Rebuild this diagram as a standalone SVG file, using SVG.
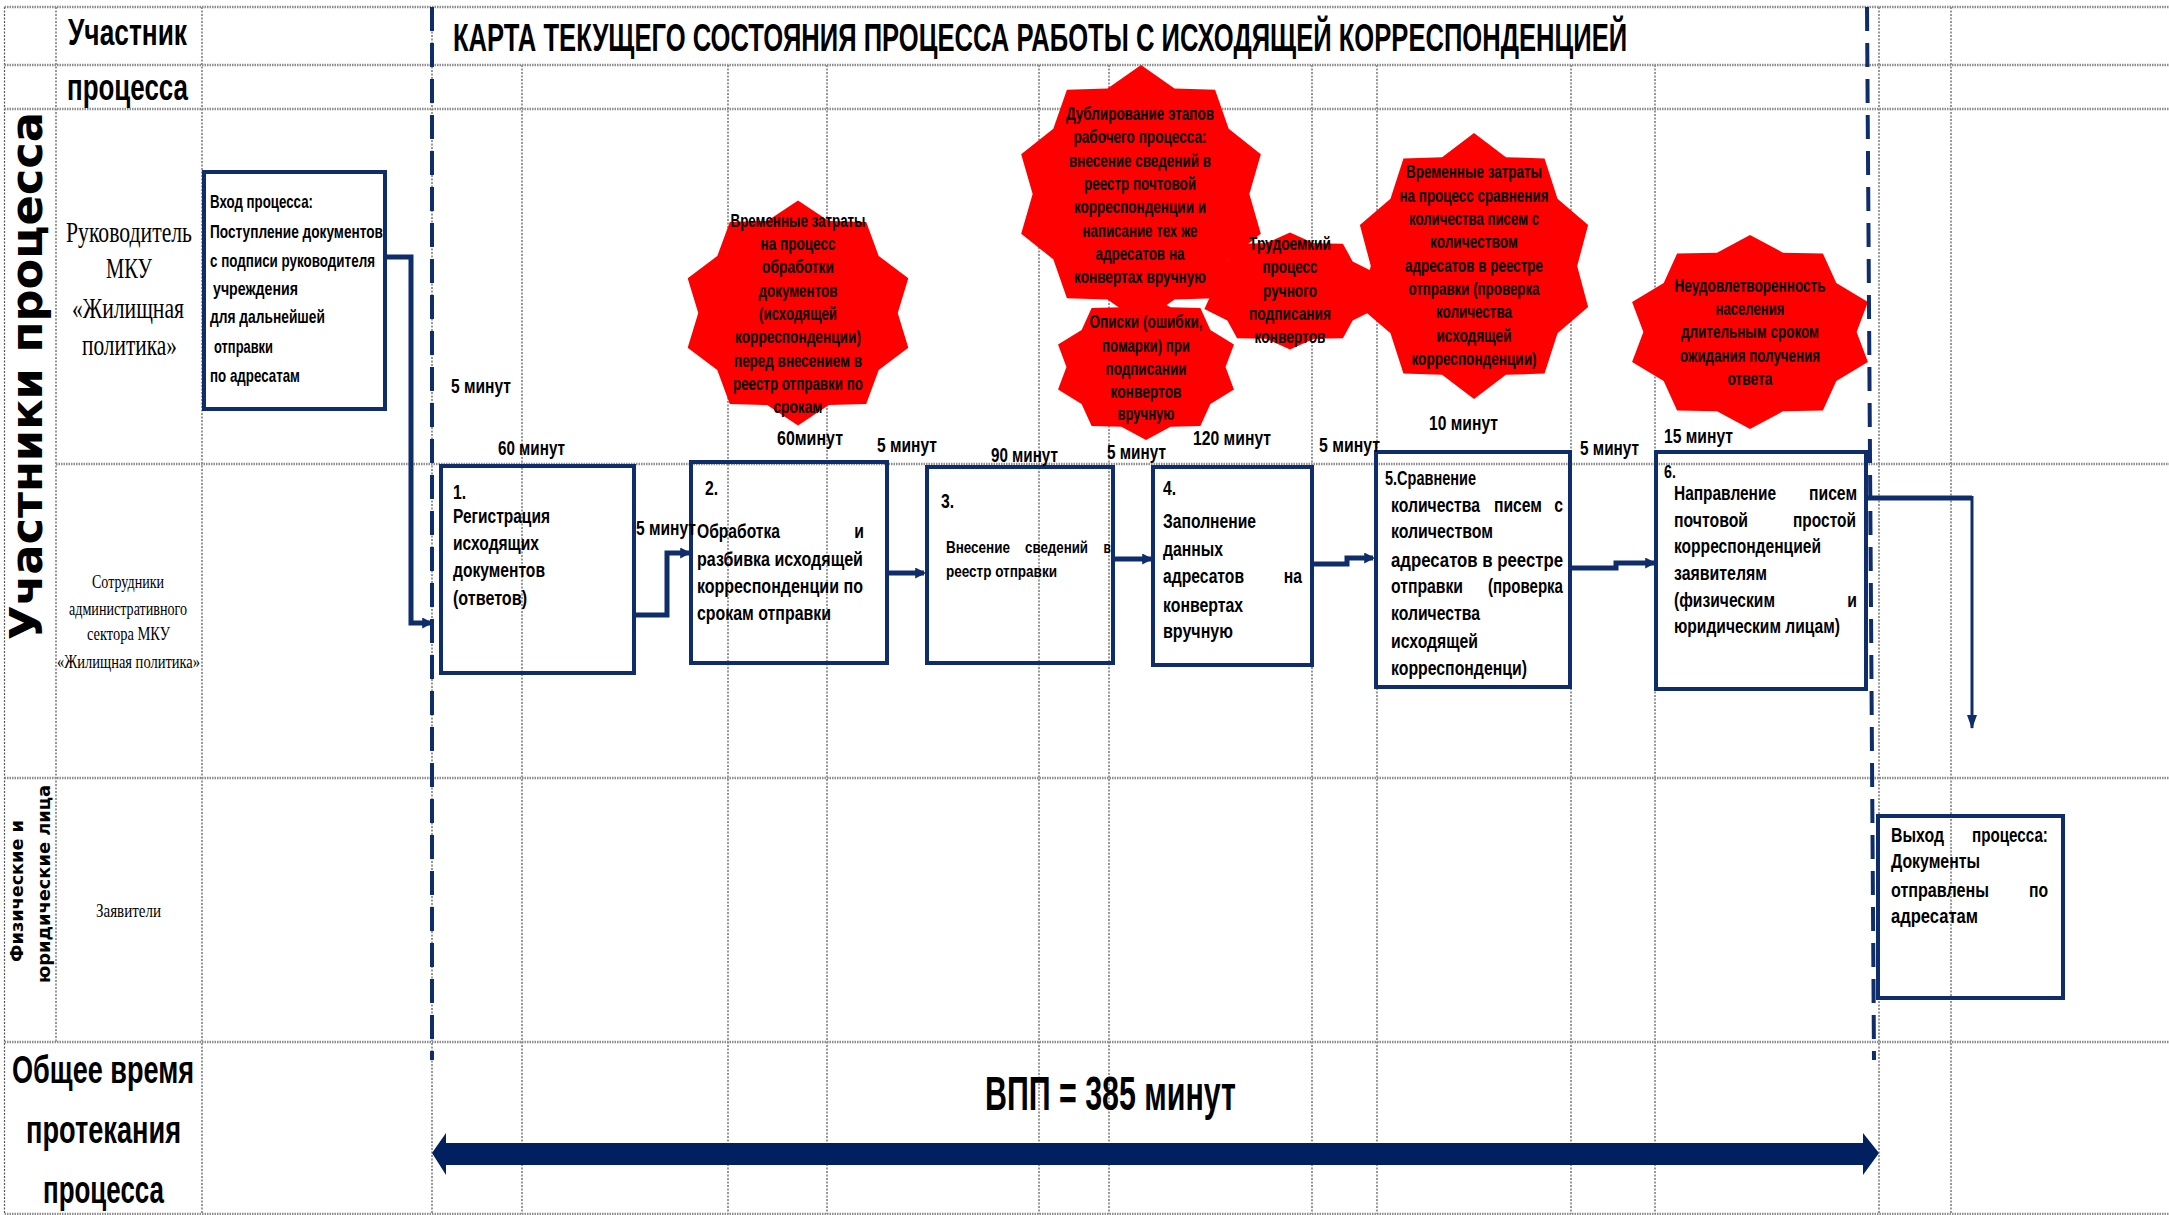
<svg xmlns="http://www.w3.org/2000/svg" xmlns:xlink="http://www.w3.org/1999/xlink" width="2169" height="1215" viewBox="0 0 2169 1215">
<style>
.gv{stroke:#555;stroke-width:1.2;stroke-dasharray:2 1.5;fill:none}
.gh{stroke:#8c8c8c;stroke-width:2.5;stroke-dasharray:1.5 1;fill:none}
.bound{stroke:#0F2D6B;stroke-width:4;stroke-dasharray:24 12;fill:none}
.box{fill:none;stroke:#0F2D6B;stroke-width:4}
.conn{stroke:#0F2D6B;stroke-width:5;fill:none}
.thin{stroke:#0F2D6B;stroke-width:3;fill:none}
.star{fill:#FF0000}
.b{font-family:"Liberation Sans",Arial,sans-serif;font-weight:bold;fill:#000}
.w{font-family:"DejaVu Sans",Verdana,sans-serif;font-weight:bold;fill:#000}
.s{font-family:"Liberation Serif","Times New Roman",serif;fill:#000}
.m{text-anchor:middle}
.e{text-anchor:end}
.f16{font-size:16px}.f18{font-size:18px}.f20{font-size:20px}.f21{font-size:21px}
</style>
<defs>
<polygon id="star10" points="0,-100 26.6,-81.8 58.8,-80.9 69.6,-50.6 95.1,-30.9 86,0 95.1,30.9 69.6,50.6 58.8,80.9 26.6,81.8 0,100 -26.6,81.8 -58.8,80.9 -69.6,50.6 -95.1,30.9 -86,0 -95.1,-30.9 -69.6,-50.6 -58.8,-80.9 -26.6,-81.8"/>
<marker id="ah" viewBox="0 0 10 10" refX="8" refY="5" markerWidth="11" markerHeight="11" markerUnits="userSpaceOnUse" orient="auto"><path d="M0,0 L10,5 L0,10 z" fill="#0F2D6B"/></marker>
<marker id="ahd" viewBox="0 0 14 10" refX="13" refY="5" markerWidth="14" markerHeight="10" markerUnits="userSpaceOnUse" orient="auto"><path d="M0,0 L14,5 L0,10 z" fill="#0F2D6B"/></marker>
</defs>
<rect width="2169" height="1215" fill="#fff"/>

<g id="grid">
<path class="gv" d="M4.5,7V1214M56,7V1042M202,7V1214M432,7V1214M522,65V1214M728,65V1214M827,65V1214M1039,65V1214M1109,65V1214M1312,65V1214M1377,65V1214M1571,65V1214M1655,65V1214M1879,7V1214M1951,7V1214"/>
<path class="gh" d="M4.5,7H2169M4.5,65H2169M4.5,109H2169M56,464H2169M4.5,778H2169M4.5,1042H2169M4.5,1214H2169"/>
</g>

<g id="headers">
<text class="b" transform="translate(453 51) scale(0.66 1)" x="0" y="0" font-size="38" textLength="1779" lengthAdjust="spacingAndGlyphs">КАРТА ТЕКУЩЕГО СОСТОЯНИЯ ПРОЦЕССА РАБОТЫ С ИСХОДЯЩЕЙ КОРРЕСПОНДЕНЦИЕЙ</text>
<text class="b" x="68" y="45" font-size="37" textLength="119" lengthAdjust="spacingAndGlyphs">Участник</text>
<text class="b" x="67" y="100" font-size="37" textLength="121" lengthAdjust="spacingAndGlyphs">процесса</text>
<text class="w m" transform="translate(42 376) rotate(-90)" x="0" y="0" font-size="45" textLength="528" lengthAdjust="spacingAndGlyphs">Участники процесса</text>
<text class="w m" transform="translate(23 891) rotate(-90)" x="0" y="0" font-size="17" textLength="142" lengthAdjust="spacingAndGlyphs">Физические и</text>
<text class="w m" transform="translate(50 884) rotate(-90)" x="0" y="0" font-size="17" textLength="198" lengthAdjust="spacingAndGlyphs">юридические лица</text>
</g>

<g id="lane-1" class="s" transform="scale(0.72 1)">
<text x="91.7" y="242" font-size="30" textLength="175" lengthAdjust="spacingAndGlyphs">Руководитель</text>
<text x="147.2" y="278" font-size="30" textLength="63.9" lengthAdjust="spacingAndGlyphs">МКУ</text>
<text x="100" y="318" font-size="30" textLength="155.6" lengthAdjust="spacingAndGlyphs">«Жилищная</text>
<text x="113.9" y="355" font-size="30" textLength="131.9" lengthAdjust="spacingAndGlyphs">политика»</text>
</g>
<g id="lane-2" class="s" transform="scale(0.72 1)">
<text x="127.8" y="588" font-size="18" textLength="100" lengthAdjust="spacingAndGlyphs">Сотрудники</text>
<text x="95.8" y="615" font-size="18" textLength="163.9" lengthAdjust="spacingAndGlyphs">административного</text>
<text x="120.8" y="640" font-size="18" textLength="115.3" lengthAdjust="spacingAndGlyphs">сектора МКУ</text>
<text x="79.2" y="668" font-size="18" textLength="198.6" lengthAdjust="spacingAndGlyphs">«Жилищная политика»</text>
</g>
<g id="lane-3" class="s" transform="scale(0.72 1)">
<text x="133.3" y="917" font-size="18" textLength="90.3" lengthAdjust="spacingAndGlyphs">Заявители</text>
</g>
<g id="lane-4" class="b">
<text x="12" y="1083" font-size="38" textLength="182" lengthAdjust="spacingAndGlyphs">Общее время</text>
<text x="26" y="1143" font-size="38" textLength="155" lengthAdjust="spacingAndGlyphs">протекания</text>
<text x="43" y="1203" font-size="38" textLength="121" lengthAdjust="spacingAndGlyphs">процесса</text>
</g>

<g id="problem-1">
<use xlink:href="#star10" class="star" transform="translate(798 313) scale(1.16 1.125)"/>
<g class="b m f18">
<text x="798" y="227" textLength="135" lengthAdjust="spacingAndGlyphs">Временные затраты</text>
<text x="798" y="250" textLength="75" lengthAdjust="spacingAndGlyphs">на процесс</text>
<text x="798" y="273" textLength="72" lengthAdjust="spacingAndGlyphs">обработки</text>
<text x="798" y="297" textLength="79" lengthAdjust="spacingAndGlyphs">документов</text>
<text x="798" y="320" textLength="78" lengthAdjust="spacingAndGlyphs">(исходящей</text>
<text x="798" y="343" textLength="126" lengthAdjust="spacingAndGlyphs">корреспонденции)</text>
<text x="798" y="367" textLength="128" lengthAdjust="spacingAndGlyphs">перед внесением в</text>
<text x="798" y="390" textLength="130" lengthAdjust="spacingAndGlyphs">реестр отправки по</text>
<text x="798" y="413" textLength="49" lengthAdjust="spacingAndGlyphs">срокам</text>
</g>
</g>

<g id="problem-2">
<use xlink:href="#star10" class="star" transform="translate(1141 194) scale(1.26 1.29)"/>
<g class="b m f18">
<text x="1140" y="120" textLength="148" lengthAdjust="spacingAndGlyphs">Дублирование этапов</text>
<text x="1140" y="143" textLength="133" lengthAdjust="spacingAndGlyphs">рабочего процесса:</text>
<text x="1140" y="167" textLength="142" lengthAdjust="spacingAndGlyphs">внесение сведений в</text>
<text x="1140" y="190" textLength="112" lengthAdjust="spacingAndGlyphs">реестр почтовой</text>
<text x="1140" y="213" textLength="132" lengthAdjust="spacingAndGlyphs">корреспонденции и</text>
<text x="1140" y="237" textLength="115" lengthAdjust="spacingAndGlyphs">написание тех же</text>
<text x="1140" y="260" textLength="89" lengthAdjust="spacingAndGlyphs">адресатов на</text>
<text x="1140" y="283" textLength="132" lengthAdjust="spacingAndGlyphs">конвертах вручную</text>
</g>
</g>

<g id="problem-3">
<use xlink:href="#star10" class="star" transform="translate(1146 367) scale(0.925 0.73)"/>
<g class="b m f18">
<text x="1146" y="328" textLength="113" lengthAdjust="spacingAndGlyphs">Описки (ошибки,</text>
<text x="1146" y="352" textLength="88" lengthAdjust="spacingAndGlyphs">помарки) при</text>
<text x="1146" y="375" textLength="81" lengthAdjust="spacingAndGlyphs">подписании</text>
<text x="1146" y="398" textLength="71" lengthAdjust="spacingAndGlyphs">конвертов</text>
<text x="1146" y="420" textLength="57" lengthAdjust="spacingAndGlyphs">вручную</text>
</g>
</g>

<g id="problem-4">
<use xlink:href="#star10" class="star" transform="translate(1290 291) scale(0.9 0.585)"/>
<g class="b m f18">
<text x="1290" y="250" textLength="82" lengthAdjust="spacingAndGlyphs">Трудоемкий</text>
<text x="1290" y="273" textLength="55" lengthAdjust="spacingAndGlyphs">процесс</text>
<text x="1290" y="297" textLength="54" lengthAdjust="spacingAndGlyphs">ручного</text>
<text x="1290" y="320" textLength="82" lengthAdjust="spacingAndGlyphs">подписания</text>
<text x="1290" y="343" textLength="71" lengthAdjust="spacingAndGlyphs">конвертов</text>
</g>
</g>

<g id="problem-5">
<use xlink:href="#star10" class="star" transform="translate(1474 266) scale(1.2 1.33)"/>
<g class="b m f18">
<text x="1474" y="178" textLength="136" lengthAdjust="spacingAndGlyphs">Временные затраты</text>
<text x="1474" y="202" textLength="149" lengthAdjust="spacingAndGlyphs">на процесс сравнения</text>
<text x="1474" y="225" textLength="130" lengthAdjust="spacingAndGlyphs">количества писем с</text>
<text x="1474" y="248" textLength="88" lengthAdjust="spacingAndGlyphs">количеством</text>
<text x="1474" y="272" textLength="138" lengthAdjust="spacingAndGlyphs">адресатов в реестре</text>
<text x="1474" y="295" textLength="131" lengthAdjust="spacingAndGlyphs">отправки (проверка</text>
<text x="1474" y="318" textLength="76" lengthAdjust="spacingAndGlyphs">количества</text>
<text x="1474" y="342" textLength="75" lengthAdjust="spacingAndGlyphs">исходящей</text>
<text x="1474" y="365" textLength="125" lengthAdjust="spacingAndGlyphs">корреспонденции)</text>
</g>
</g>

<g id="problem-6">
<use xlink:href="#star10" class="star" transform="translate(1750 332) scale(1.24 0.97)"/>
<g class="b m f18">
<text x="1750" y="292" textLength="151" lengthAdjust="spacingAndGlyphs">Неудовлетворенность</text>
<text x="1750" y="315" textLength="69" lengthAdjust="spacingAndGlyphs">населения</text>
<text x="1750" y="338" textLength="138" lengthAdjust="spacingAndGlyphs">длительным сроком</text>
<text x="1750" y="362" textLength="140" lengthAdjust="spacingAndGlyphs">ожидания получения</text>
<text x="1750" y="385" textLength="45" lengthAdjust="spacingAndGlyphs">ответа</text>
</g>
</g>

<g id="entry">
<rect class="box" x="204" y="172" width="181" height="237"/>
<g class="b f18" transform="scale(0.75 1)">
<text x="280" y="208" textLength="137.3" lengthAdjust="spacingAndGlyphs">Вход процесса:</text>
<text x="280" y="238" textLength="230.7" lengthAdjust="spacingAndGlyphs">Поступление документов</text>
<text x="280" y="267" textLength="220" lengthAdjust="spacingAndGlyphs">с подписи руководителя</text>
<text x="284" y="295" textLength="113.3" lengthAdjust="spacingAndGlyphs">учреждения</text>
<text x="280" y="323" textLength="153.3" lengthAdjust="spacingAndGlyphs">для дальнейшей</text>
<text x="285.3" y="353" textLength="78.7" lengthAdjust="spacingAndGlyphs">отправки</text>
<text x="280" y="382" textLength="120" lengthAdjust="spacingAndGlyphs">по адресатам</text>
</g>
</g>

<g id="step-1">
<rect class="box" x="441" y="466" width="193" height="207"/>
<g class="b f21" transform="scale(0.75 1)">
<text x="604" y="499">1.</text>
<text x="604" y="523" textLength="129.3" lengthAdjust="spacingAndGlyphs">Регистрация</text>
<text x="604" y="550" textLength="114.7" lengthAdjust="spacingAndGlyphs">исходящих</text>
<text x="604" y="577" textLength="122.7" lengthAdjust="spacingAndGlyphs">документов</text>
<text x="604" y="605" textLength="98.7" lengthAdjust="spacingAndGlyphs">(ответов)</text>
</g>
</g>

<g id="step-2">
<rect class="box" x="691" y="462" width="196" height="201"/>
<g class="b f21" transform="scale(0.75 1)">
<text x="940" y="495">2.</text>
<text x="929.3" y="538" textLength="110.7" lengthAdjust="spacingAndGlyphs">Обработка</text>
<text class="e" x="1152" y="538">и</text>
<text x="929.3" y="566" textLength="221.3" lengthAdjust="spacingAndGlyphs">разбивка исходящей</text>
<text x="929.3" y="593" textLength="221.3" lengthAdjust="spacingAndGlyphs">корреспонденции по</text>
<text x="929.3" y="620" textLength="178.7" lengthAdjust="spacingAndGlyphs">срокам отправки</text>
</g>
</g>

<g id="step-3">
<rect class="box" x="927" y="467" width="186" height="196"/>
<g class="b" transform="scale(0.75 1)">
<text class="f21" x="1254.7" y="508">3.</text>
<text class="f16" x="1261.3" y="553" textLength="85.3" lengthAdjust="spacingAndGlyphs">Внесение</text>
<text class="f16" x="1366.7" y="553" textLength="84" lengthAdjust="spacingAndGlyphs">сведений</text>
<text class="f16 e" x="1481.3" y="553">в</text>
<text class="f16" x="1261.3" y="577" textLength="148" lengthAdjust="spacingAndGlyphs">реестр отправки</text>
</g>
</g>

<g id="step-4">
<rect class="box" x="1153" y="467" width="159" height="198"/>
<g class="b f21" transform="scale(0.75 1)">
<text x="1550.7" y="495">4.</text>
<text x="1550.7" y="528" textLength="124" lengthAdjust="spacingAndGlyphs">Заполнение</text>
<text x="1550.7" y="556" textLength="80" lengthAdjust="spacingAndGlyphs">данных</text>
<text x="1550.7" y="583" textLength="108" lengthAdjust="spacingAndGlyphs">адресатов</text>
<text class="e" x="1736" y="583">на</text>
<text x="1550.7" y="612" textLength="106.7" lengthAdjust="spacingAndGlyphs">конвертах</text>
<text x="1550.7" y="638" textLength="93.3" lengthAdjust="spacingAndGlyphs">вручную</text>
</g>
</g>

<g id="step-5">
<rect class="box" x="1376" y="452" width="194" height="235"/>
<g class="b f21" transform="scale(0.75 1)">
<text x="1846.7" y="485" textLength="121.3" lengthAdjust="spacingAndGlyphs">5.Сравнение</text>
<text x="1854.7" y="512" textLength="118.7" lengthAdjust="spacingAndGlyphs">количества</text>
<text x="1992" y="512" textLength="64" lengthAdjust="spacingAndGlyphs">писем</text>
<text class="e" x="2084" y="512">с</text>
<text x="1854.7" y="538" textLength="136" lengthAdjust="spacingAndGlyphs">количеством</text>
<text x="1854.7" y="567" textLength="229.3" lengthAdjust="spacingAndGlyphs">адресатов в реестре</text>
<text x="1854.7" y="593" textLength="96" lengthAdjust="spacingAndGlyphs">отправки</text>
<text x="1984" y="593" textLength="100" lengthAdjust="spacingAndGlyphs">(проверка</text>
<text x="1854.7" y="620" textLength="118.7" lengthAdjust="spacingAndGlyphs">количества</text>
<text x="1854.7" y="648" textLength="116" lengthAdjust="spacingAndGlyphs">исходящей</text>
<text x="1854.7" y="675" textLength="181.3" lengthAdjust="spacingAndGlyphs">корреспонденци)</text>
</g>
</g>

<g id="step-6">
<rect class="box" x="1656" y="452" width="210" height="237"/>
<g class="b f21" transform="scale(0.75 1)">
<text x="2218.7" y="478" font-size="19">6.</text>
<text x="2232" y="500" textLength="136" lengthAdjust="spacingAndGlyphs">Направление</text>
<text x="2412" y="500" textLength="64" lengthAdjust="spacingAndGlyphs">писем</text>
<text x="2232" y="527" textLength="98.7" lengthAdjust="spacingAndGlyphs">почтовой</text>
<text x="2390.7" y="527" textLength="84" lengthAdjust="spacingAndGlyphs">простой</text>
<text x="2232" y="553" textLength="196" lengthAdjust="spacingAndGlyphs">корреспонденцией</text>
<text x="2232" y="580" textLength="124" lengthAdjust="spacingAndGlyphs">заявителям</text>
<text x="2232" y="607" textLength="134.7" lengthAdjust="spacingAndGlyphs">(физическим</text>
<text class="e" x="2476" y="607">и</text>
<text x="2232" y="633" textLength="221.3" lengthAdjust="spacingAndGlyphs">юридическим лицам)</text>
</g>
</g>

<g id="exit">
<rect class="box" x="1878" y="816" width="185" height="182"/>
<g class="b f21" transform="scale(0.75 1)">
<text x="2521.3" y="842" textLength="70.7" lengthAdjust="spacingAndGlyphs">Выход</text>
<text x="2629.3" y="842" textLength="101.3" lengthAdjust="spacingAndGlyphs">процесса:</text>
<text x="2521.3" y="868" textLength="118.7" lengthAdjust="spacingAndGlyphs">Документы</text>
<text x="2521.3" y="897" textLength="130.7" lengthAdjust="spacingAndGlyphs">отправлены</text>
<text class="e" x="2730.7" y="897">по</text>
<text x="2521.3" y="923" textLength="116" lengthAdjust="spacingAndGlyphs">адресатам</text>
</g>
</g>

<g id="times" class="b f20" transform="scale(0.75 1)">
<text x="601.3" y="393" textLength="80" lengthAdjust="spacingAndGlyphs">5 минут</text>
<text x="664" y="455" textLength="89.3" lengthAdjust="spacingAndGlyphs">60 минут</text>
<text x="848" y="535" textLength="80" lengthAdjust="spacingAndGlyphs">5 минут</text>
<text x="1036" y="445" textLength="88" lengthAdjust="spacingAndGlyphs">60минут</text>
<text x="1169.3" y="452" textLength="80" lengthAdjust="spacingAndGlyphs">5 минут</text>
<text x="1321.3" y="462" textLength="89.3" lengthAdjust="spacingAndGlyphs">90 минут</text>
<text x="1476" y="459" textLength="78.7" lengthAdjust="spacingAndGlyphs">5 минут</text>
<text x="1590.7" y="445" textLength="104" lengthAdjust="spacingAndGlyphs">120 минут</text>
<text x="1758.7" y="452" textLength="81.3" lengthAdjust="spacingAndGlyphs">5 минут</text>
<text x="1905.3" y="430" textLength="92" lengthAdjust="spacingAndGlyphs">10 минут</text>
<text x="2106.7" y="455" textLength="78.7" lengthAdjust="spacingAndGlyphs">5 минут</text>
<text x="2218.7" y="443" textLength="92" lengthAdjust="spacingAndGlyphs">15 минут</text>
</g>

<g id="connectors">
<path class="conn" d="M385,257 H411 V623 H431" marker-end="url(#ah)"/>
<path class="conn" d="M634,615 H667 V553 H689" marker-end="url(#ah)"/>
<path class="conn" d="M889,573 H924" marker-end="url(#ah)"/>
<path class="conn" d="M1115,559 H1151" marker-end="url(#ah)"/>
<path class="conn" d="M1314,564 H1347 V558 H1373" marker-end="url(#ah)"/>
<path class="conn" d="M1572,568 H1616 V563 H1654" marker-end="url(#ah)"/>
<path class="conn" d="M1866,498 H1972"/>
<path class="thin" d="M1972,496 V728" marker-end="url(#ahd)"/>
</g>

<g id="boundaries">
<path class="bound" d="M432,7 V1060"/>
<path class="bound" d="M1867,7 L1874,1060"/>
</g>

<g id="total">
<polygon points="432,1153 446,1133 446,1143 1863,1143 1863,1133 1879,1153 1863,1175 1863,1165 446,1165 446,1175" fill="#002060"/>
<text class="b" x="985" y="1110" font-size="48" textLength="251" lengthAdjust="spacingAndGlyphs">ВПП = 385 минут</text>
</g>
</svg>
